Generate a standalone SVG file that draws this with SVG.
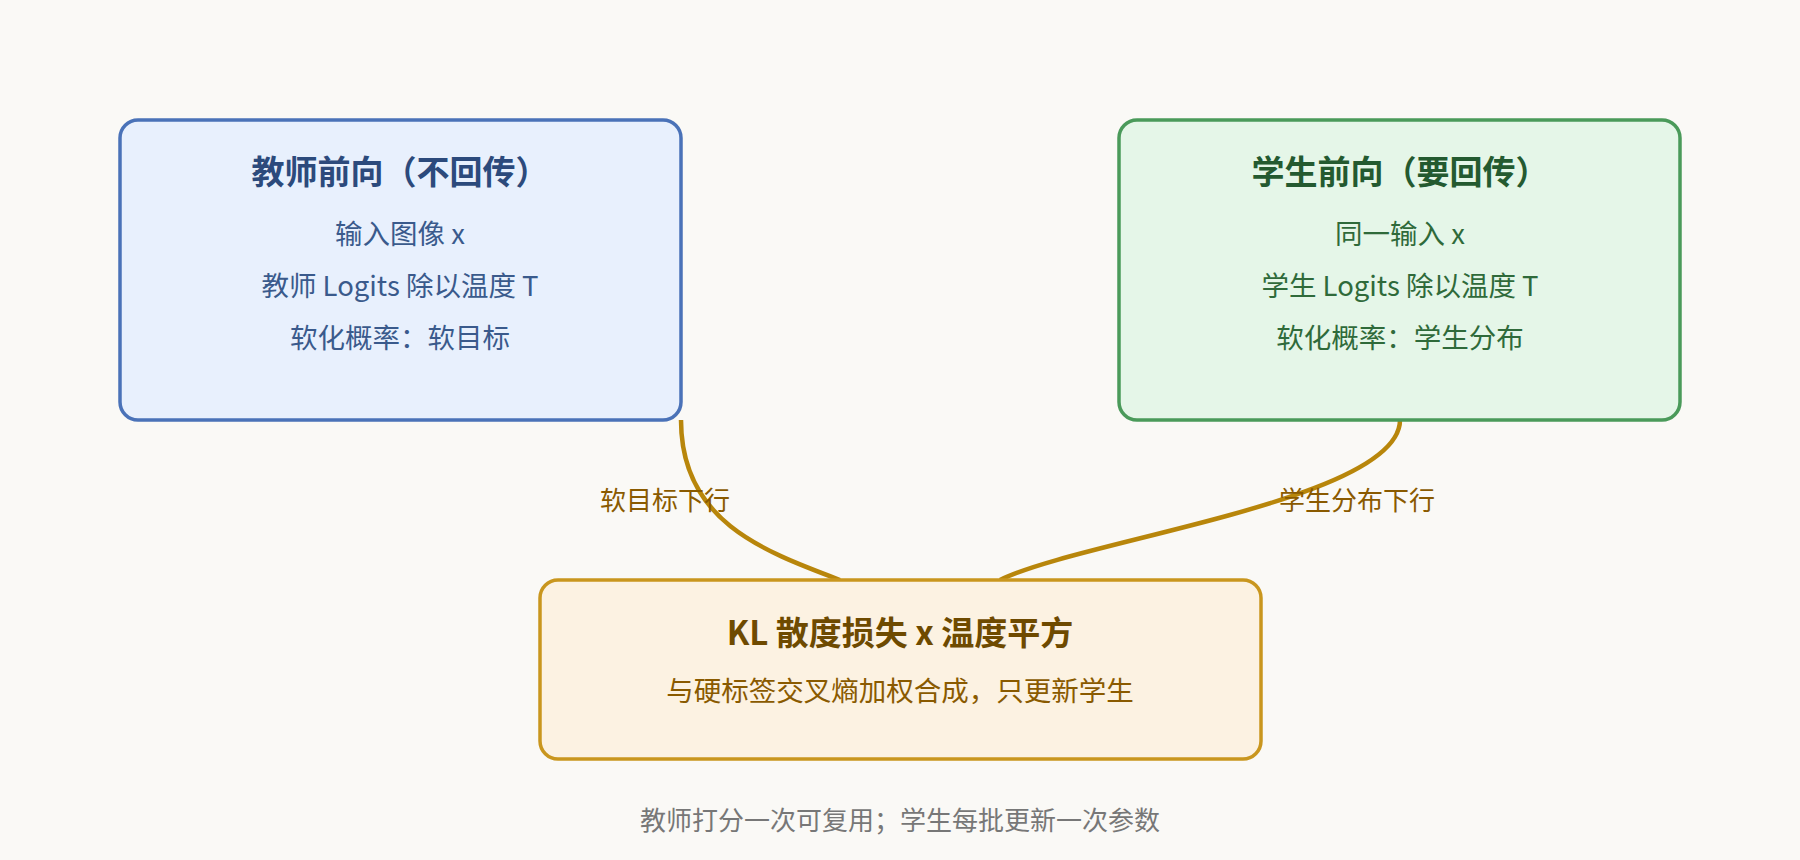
<svg xmlns="http://www.w3.org/2000/svg" width="1800" height="860" viewBox="0 0 1800 860">
<style>
text{font-family:"Noto Sans CJK SC","Noto Sans",sans-serif;text-anchor:middle}
.t{font-size:33px;font-weight:bold}
.l{font-size:27.5px}
.e{fill:none;stroke:#b8860b;stroke-width:4.5}
.el{font-size:26px;fill:#8a5a00}
</style>
<rect width="1800" height="860" fill="#faf9f6"/>
<g id="connectors">
<path class="e" d="M681,420 C681,520 760,550 840,580"/>
<path class="e" d="M1400,420 C1400,500 1080,540 1000,580"/>
<text class="el" x="665" y="510">软目标下行</text>
<text class="el" x="1357" y="510">学生分布下行</text>
</g>
<g id="teacher">
<rect x="120" y="120" width="561" height="300" rx="18" fill="#e8f0fd" stroke="#4a72b8" stroke-width="3.5"/>
<text class="t" x="400" y="184" fill="#2c4a7c">教师前向（不回传）</text>
<text class="l" x="400" y="244" fill="#3a5a8c">输入图像 x</text>
<text class="l" x="400" y="296" fill="#3a5a8c">教师 Logits 除以温度 T</text>
<text class="l" x="400" y="348" fill="#3a5a8c">软化概率：软目标</text>
</g>
<g id="student">
<rect x="1119" y="120" width="561" height="300" rx="18" fill="#e5f6e8" stroke="#4a9a5a" stroke-width="3.5"/>
<text class="t" x="1400" y="184" fill="#245a30">学生前向（要回传）</text>
<text class="l" x="1400" y="244" fill="#2f6a3a">同一输入 x</text>
<text class="l" x="1400" y="296" fill="#2f6a3a">学生 Logits 除以温度 T</text>
<text class="l" x="1400" y="348" fill="#2f6a3a">软化概率：学生分布</text>
</g>
<g id="loss">
<rect x="540" y="580" width="721" height="179" rx="18" fill="#fcf2e2" stroke="#c9961e" stroke-width="3.5"/>
<text class="t" x="900" y="645" fill="#6e4a00">KL 散度损失 x 温度平方</text>
<text class="l" x="900" y="701" fill="#8a5a00">与硬标签交叉熵加权合成，只更新学生</text>
</g>
<text x="900" y="830" font-size="26" fill="#777">教师打分一次可复用；学生每批更新一次参数</text>
</svg>
